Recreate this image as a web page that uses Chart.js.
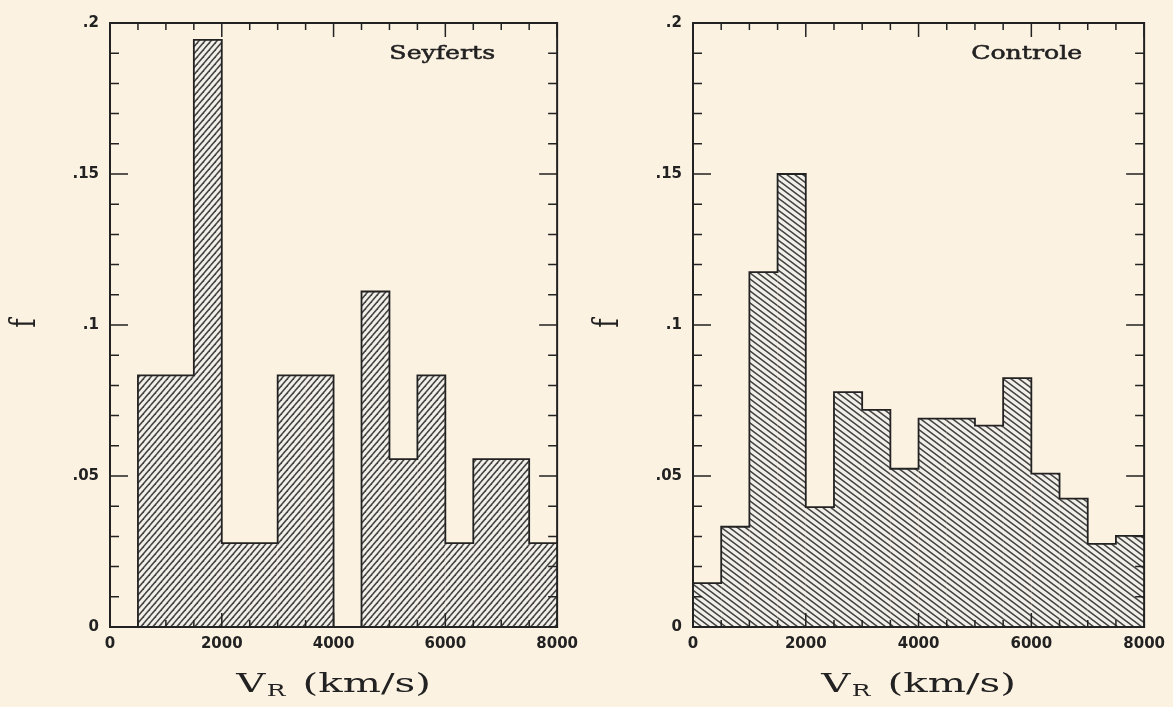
<!DOCTYPE html>
<html>
<head>
<meta charset="utf-8">
<script src="https://cdn.jsdelivr.net/npm/chart.js@4.4.1/dist/chart.umd.min.js"></script>
<style>
  html, body { margin: 0; padding: 0; background: #fcf2e2; width: 1173px; height: 707px; overflow: hidden; }
  .panel { position: absolute; top: 0; height: 707px; }
  #p1 { left: 0; width: 586px; }
  #p2 { left: 586px; width: 587px; }
</style>
</head>
<body>
<div class="panel" id="p1"><canvas id="c1"></canvas></div>
<div class="panel" id="p2"><canvas id="c2"></canvas></div>
<script>
// ---------- data ----------
const binStarts = [0, 500, 1000, 1500, 2000, 2500, 3000, 3500, 4000, 4500, 5000, 5500, 6000, 6500, 7000, 7500];
const binWidth = 500;
const seyfertsF = [0, 0.0833, 0.0833, 0.1944, 0.0278, 0.0278, 0.0833, 0.0833, 0, 0.1111, 0.0556, 0.0833, 0.0278, 0.0556, 0.0556, 0.0278];
const controleF = [0.0145, 0.0332, 0.1175, 0.1500, 0.0397, 0.0778, 0.0719, 0.0524, 0.0690, 0.0690, 0.0667, 0.0824, 0.0508, 0.0425, 0.0275, 0.0302];
const xTickLabels = ['0', '2000', '4000', '6000', '8000'];
const yTickLabels = ['0', '.05', '.1', '.15', '.2'];
const panelNames = ['Seyferts', 'Controle'];
const xTitleMain = 'V';
const xTitleSub = 'R';
const xTitleUnit = '(km/s)';
const yTitle = 'f';

// ---------- styling helpers ----------
const INK = '#222222';
function hatch(ctx, p, q, dir) {
  const c = document.createElement('canvas');
  c.width = p; c.height = q;
  const g = c.getContext('2d');
  g.fillStyle = '#f3efe9';
  g.fillRect(0, 0, p, q);
  g.strokeStyle = '#444444';
  g.lineWidth = 1.5;
  for (let k = -1; k <= 1; k++) {
    g.beginPath();
    if (dir > 0) { g.moveTo(k * p - p, 2 * q); g.lineTo(k * p + 2 * p, -q); }
    else { g.moveTo(k * p - p, -q); g.lineTo(k * p + 2 * p, 2 * q); }
    g.stroke();
  }
  return ctx.createPattern(c, 'repeat');
}

const decor = {
  id: 'decor',
  afterDatasetsDraw(chart, args, o) {
    const { ctx, chartArea: a, scales: { x, y } } = chart;
    ctx.save();
    ctx.strokeStyle = INK;
    ctx.lineWidth = 1.5;
    ctx.beginPath();
    for (let v = x.min; v <= x.max + 1e-6; v += 500) {
      const px = x.getPixelForValue(v);
      const L = (Math.round(v) % 2000 === 0) ? 14 : 7;
      ctx.moveTo(px, a.bottom); ctx.lineTo(px, a.bottom - L);
      ctx.moveTo(px, a.top); ctx.lineTo(px, a.top + L);
    }
    for (let i = 0; i <= 20; i++) {
      const py = y.getPixelForValue(y.min + i * 0.01);
      const L = (i % 5 === 0) ? 18 : 9;
      ctx.moveTo(a.left, py); ctx.lineTo(a.left + L, py);
      ctx.moveTo(a.right, py); ctx.lineTo(a.right - L, py);
    }
    ctx.stroke();
    ctx.lineWidth = 2;
    ctx.strokeRect(a.left, a.top, a.right - a.left, a.bottom - a.top);
    ctx.restore();
  },
  afterDraw(chart, args, o) {
    const { ctx, chartArea: a } = chart;
    ctx.save();
    ctx.fillStyle = INK;
    ctx.strokeStyle = INK;
    // panel name
    ctx.save();
    ctx.font = '18px "DejaVu Serif"';
    ctx.textAlign = 'right';
    ctx.textBaseline = 'middle';
    ctx.translate(a.right - 62, a.top + 31);
    ctx.scale(1.4, 1);
    ctx.lineWidth = 0.5;
    ctx.fillText(o.name, 0, 0);
    ctx.strokeText(o.name, 0, 0);
    ctx.restore();
    // x title with subscript
    ctx.save();
    const cx = (a.left + a.right) / 2;
    ctx.translate(cx, 692);
    ctx.scale(1.55, 1);
    ctx.textAlign = 'left';
    ctx.textBaseline = 'alphabetic';
    const big = '26px "DejaVu Serif"', small = '16px "DejaVu Serif"';
    ctx.font = big; const wV = ctx.measureText(xTitleMain).width;
    const wU = ctx.measureText(xTitleUnit).width;
    ctx.font = small; const wR = ctx.measureText(xTitleSub).width;
    const gap = 12;
    let xx = -(wV + wR + gap + wU) / 2;
    ctx.font = big; ctx.fillText(xTitleMain, xx, 0); xx += wV;
    ctx.font = small; ctx.fillText(xTitleSub, xx + 1, 4); xx += wR + gap;
    ctx.font = big; ctx.fillText(xTitleUnit, xx, 0);
    ctx.restore();
    // y title, rotated
    ctx.save();
    ctx.translate(a.left - 84, (a.top + a.bottom) / 2 - 2);
    ctx.scale(1.45, 1);
    ctx.rotate(-Math.PI / 2);
    ctx.font = '25px "DejaVu Serif"';
    ctx.textAlign = 'center';
    ctx.textBaseline = 'middle';
    ctx.fillText(yTitle, 0, 0);
    ctx.restore();
    ctx.restore();
  }
};

function makeChart(id, values, name, yWidth, padRight, hatchP, hatchQ, dir) {
  const canvas = document.getElementById(id);
  const ctx = canvas.getContext('2d');
  const barData = binStarts.map((s, i) => ({ x: s + binWidth / 2, y: values[i] }));
  const stepData = binStarts.map((s, i) => ({ x: s, y: values[i] }));
  stepData.push({ x: binStarts[binStarts.length - 1] + binWidth, y: values[values.length - 1] });
  const tickFont = { family: '"DejaVu Sans"', size: 15, weight: 'bold' };
  return new Chart(ctx, {
    type: 'bar',
    data: {
      datasets: [
        {
          type: 'line', data: stepData, stepped: 'before', borderColor: INK, borderWidth: 1.8,
          pointRadius: 0, fill: false, order: 0
        },
        {
          type: 'bar', data: barData, backgroundColor: hatch(ctx, hatchP, hatchQ, dir),
          borderWidth: 0, barPercentage: 1, categoryPercentage: 1, inflateAmount: 0, order: 1
        }
      ]
    },
    options: {
      responsive: true, maintainAspectRatio: false, animation: false,
      layout: { padding: { left: 0, right: padRight, top: 23, bottom: 0 } },
      plugins: { legend: { display: false }, tooltip: { enabled: false }, decor: { name } },
      scales: {
        x: {
          type: 'linear', min: 0, max: 8000, offset: false,
          grid: { display: false, drawTicks: false, offset: false }, border: { display: false },
          ticks: { stepSize: 2000, autoSkip: false, maxRotation: 0, padding: 8, color: INK, font: tickFont,
                   callback: (v, i) => xTickLabels[i] },
          afterFit: (s) => { s.height = 80; }
        },
        y: {
          type: 'linear', min: 0, max: 0.2,
          grid: { display: false, drawTicks: false }, border: { display: false },
          ticks: { stepSize: 0.05, autoSkip: false, padding: 11, color: INK, font: tickFont,
                   callback: (v, i) => yTickLabels[i] },
          afterFit: (s) => { s.width = yWidth; }
        }
      }
    },
    plugins: [decor]
  });
}

makeChart('c1', seyfertsF, panelNames[0], 110, 25, 6, 7, 1);
makeChart('c2', controleF, panelNames[1], 107, 28, 8, 6, -1);
</script>
</body>
</html>
